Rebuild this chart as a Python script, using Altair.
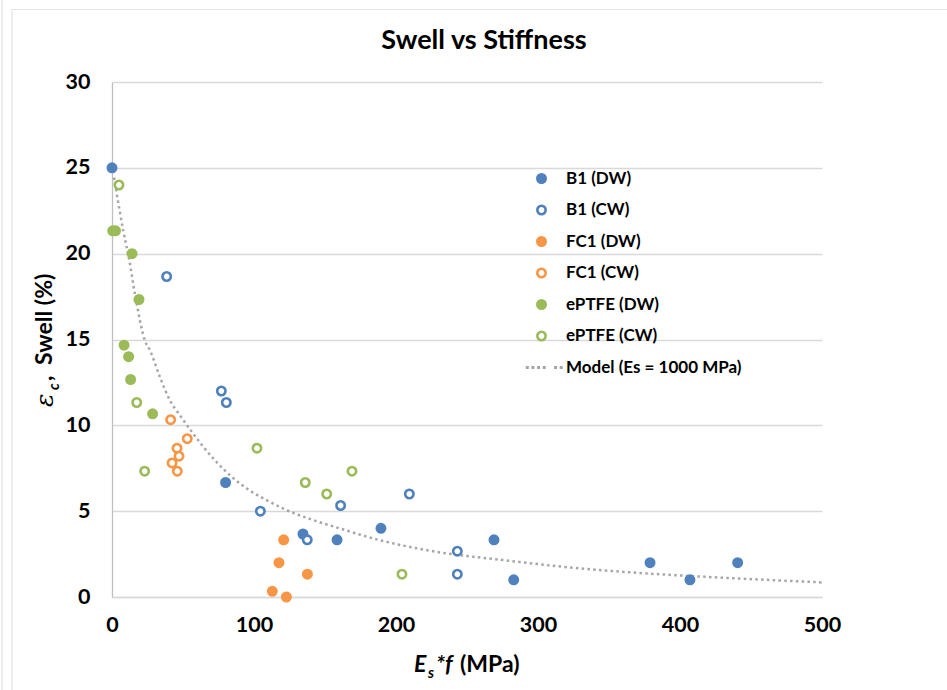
import altair as alt
import pandas as pd

# ---- measured data -------------------------------------------------------
b1_dw_x = [0, 80, 134.5, 158.5, 189.4, 269, 282.9, 378.9, 407, 440.6]
b1_dw_y = [25.0, 6.67, 3.67, 3.33, 4.0, 3.33, 1.0, 2.0, 1.0, 2.0]

b1_cw_x = [38.5, 77, 80.5, 104.5, 137.5, 161, 209.4, 243.2, 243.2]
b1_cw_y = [18.67, 12.0, 11.33, 5.0, 3.33, 5.33, 6.0, 2.67, 1.33]

fc1_dw_x = [120.9, 117.6, 137.6, 112.9, 122.8]
fc1_dw_y = [3.33, 2.0, 1.33, 0.33, 0.0]

fc1_cw_x = [41.3, 53.0, 45.8, 47.2, 42.3, 46.0]
fc1_cw_y = [10.33, 9.22, 8.67, 8.2, 7.81, 7.33]

ptfe_dw_x = [0.5, 2.5, 14.1, 19.0, 8.5, 11.7, 13.1, 28.6]
ptfe_dw_y = [21.33, 21.33, 20.0, 17.33, 14.67, 14.0, 12.67, 10.67]

ptfe_cw_x = [4.9, 17.4, 23.0, 102.1, 136.1, 151.2, 169.0, 204.2]
ptfe_cw_y = [24.0, 11.33, 7.33, 8.67, 6.67, 6.0, 7.33, 1.33]

# model curve (Es = 1000 MPa)
model_x = [1.4, 3.3, 5.6, 8.0, 10.3, 13.1, 15.0, 17.4, 20.2, 23.2, 26.8, 33.8,
           40.8, 47.9, 57.3, 71.4, 83.1, 94.9, 108.9, 123.0, 141.8, 160.6,
           184.0, 228.7, 275.6, 322.5, 369.5, 416.4, 463.4, 500.0]
model_y = [24.44, 23.5, 22.4, 21.3, 20.4, 19.2, 18.2, 17.1, 15.9, 14.94, 14.36,
           12.8, 11.45, 10.58, 9.5, 8.06, 7.09, 6.32, 5.64, 5.06, 4.48, 3.99,
           3.41, 2.63, 2.15, 1.72, 1.41, 1.18, 0.99, 0.85]

series_names = ["B1 (DW)", "B1 (CW)", "FC1 (DW)", "FC1 (CW)",
                "ePTFE (DW)", "ePTFE (CW)", "Model (Es = 1000 MPa)"]

BLUE, ORANGE, GREEN, GREY = "#4F81BD", "#F79646", "#9BBB59", "#A6A6A6"
stroke_colors = [BLUE, BLUE, ORANGE, ORANGE, GREEN, GREEN, GREY]
fill_colors = [BLUE, "#FFFFFF", ORANGE, "#FFFFFF", GREEN, "#FFFFFF", GREY]

MARK_SIZE = 70

# dotted-line glyph for the model entry of the legend
def _dot(cx, h=0.05):
    return f"M{cx - h},{-h}h{2 * h}v{2 * h}h{-2 * h}z"

model_glyph = " ".join(_dot(c) for c in [-3.4, -2.05, -0.7, 0.65, 3.35, 4.7])
shapes = ["circle"] * 6 + [model_glyph]

frames = []
for name, xs, ys in [
    ("B1 (DW)", b1_dw_x, b1_dw_y),
    ("B1 (CW)", b1_cw_x, b1_cw_y),
    ("FC1 (DW)", fc1_dw_x, fc1_dw_y),
    ("FC1 (CW)", fc1_cw_x, fc1_cw_y),
    ("ePTFE (DW)", ptfe_dw_x, ptfe_dw_y),
    ("ePTFE (CW)", ptfe_cw_x, ptfe_cw_y),
]:
    frames.append(pd.DataFrame({"x": xs, "y": ys, "series": name}))
points_df = pd.concat(frames, ignore_index=True)
model_df = pd.DataFrame({"x": model_x, "y": model_y})

FONT = "Lato"

x_scale = alt.Scale(domain=[0, 500], nice=False)
y_scale = alt.Scale(domain=[0, 30], nice=False)

x_axis = alt.Axis(values=[0, 100, 200, 300, 400, 500], grid=False, ticks=False,
                  domainColor="#D9D9D9", domainWidth=1.3, labelFont=FONT,
                  labelFontSize=21.5, labelFontWeight="bold", labelColor="#000000",
                  labelPadding=17, labelFlush=False, labelOverlap=False, title=None)
y_axis = alt.Axis(values=[0, 5, 10, 15, 20, 25, 30], grid=True, gridColor="#D9D9D9",
                  gridWidth=1.3, ticks=False, domainColor="#BFBFBF", domainWidth=1.3,
                  labelFont=FONT, labelFontSize=21.5, labelFontWeight="bold",
                  labelColor="#000000", labelPadding=22, labelFlush=False,
                  labelOverlap=False, title=None)

legend = alt.Legend(title=None, orient="none", legendX=421, legendY=88,
                    labelFont=FONT, labelFontSize=17, labelFontWeight="bold",
                    labelColor="#000000", labelLimit=0, symbolSize=MARK_SIZE,
                    symbolStrokeWidth=2.6, labelOffset=16, rowPadding=12.5)

model_line = alt.Chart(model_df).mark_line(
    color=GREY, strokeWidth=2.5, strokeDash=[2.5, 3.3], strokeCap="butt",
    interpolate="monotone",
).encode(
    x=alt.X("x:Q", scale=x_scale, axis=x_axis),
    y=alt.Y("y:Q", scale=y_scale, axis=y_axis),
)

points = alt.Chart(points_df).mark_point(
    size=MARK_SIZE, strokeWidth=2.6, opacity=1, filled=False,
).encode(
    x=alt.X("x:Q", scale=x_scale, axis=x_axis),
    y=alt.Y("y:Q", scale=y_scale, axis=y_axis),
    color=alt.Color("series:N", scale=alt.Scale(domain=series_names, range=stroke_colors),
                    legend=legend),
    fill=alt.Fill("series:N", scale=alt.Scale(domain=series_names, range=fill_colors),
                  legend=legend),
    shape=alt.Shape("series:N", scale=alt.Scale(domain=series_names, range=shapes),
                    legend=legend),
)

# text runs (mixed italic / subscript / bold) for the titles
def label(text, x, y, size=23, style="normal", weight="bold", angle=0, font=FONT,
          align="left"):
    return alt.Chart(model_df.head(1)).mark_text(
        text=text, font=font, fontSize=size, fontStyle=style, fontWeight=weight,
        align=align, baseline="alphabetic", angle=angle, color="#000000",
    ).encode(x=alt.value(x), y=alt.value(y))

title = [label("Swell vs Stiffness", 372, -33, size=27, align="center")]

x_title = [
    label("E", 302, 590, style="italic"),
    label("s", 316, 596, size=15, style="italic"),
    label("*f", 324, 590, style="italic"),
    label("(MPa)", 348, 590),
]
y_title = [
    label("\u03b5", -59, 325, size=25, style="italic", weight="normal",
          angle=270, font="DejaVu Serif"),
    label("c", -53, 308, size=15, style="italic", angle=270),
    label(",", -60, 299, angle=270),
    label("Swell (%)", -60.5, 283, angle=270),
]

# outer frame lines of the chart area
frame_rules = [
    alt.Chart(model_df.head(1)).mark_rule(color="#E3E3E3", strokeWidth=1.2).encode(
        x=alt.value(-110), y=alt.value(-82), y2=alt.value(608)),
    alt.Chart(model_df.head(1)).mark_rule(color="#E3E3E3", strokeWidth=1.2).encode(
        x=alt.value(-100), y=alt.value(-72.5), y2=alt.value(608)),
    alt.Chart(model_df.head(1)).mark_rule(color="#E3E3E3", strokeWidth=1.2).encode(
        x=alt.value(-100), x2=alt.value(835), y=alt.value(-72.5)),
]

chart = alt.layer(
    *frame_rules, model_line, points, *title, *x_title, *y_title
).properties(
    width=710, height=515,
    autosize=alt.AutoSizeParams(type="none"),
    padding={"left": 112, "top": 82, "right": 125, "bottom": 93},
    background="#FFFFFF",
).configure_view(stroke=None)

chart.save("out.html", embed_options={"renderer": "svg", "actions": False})
